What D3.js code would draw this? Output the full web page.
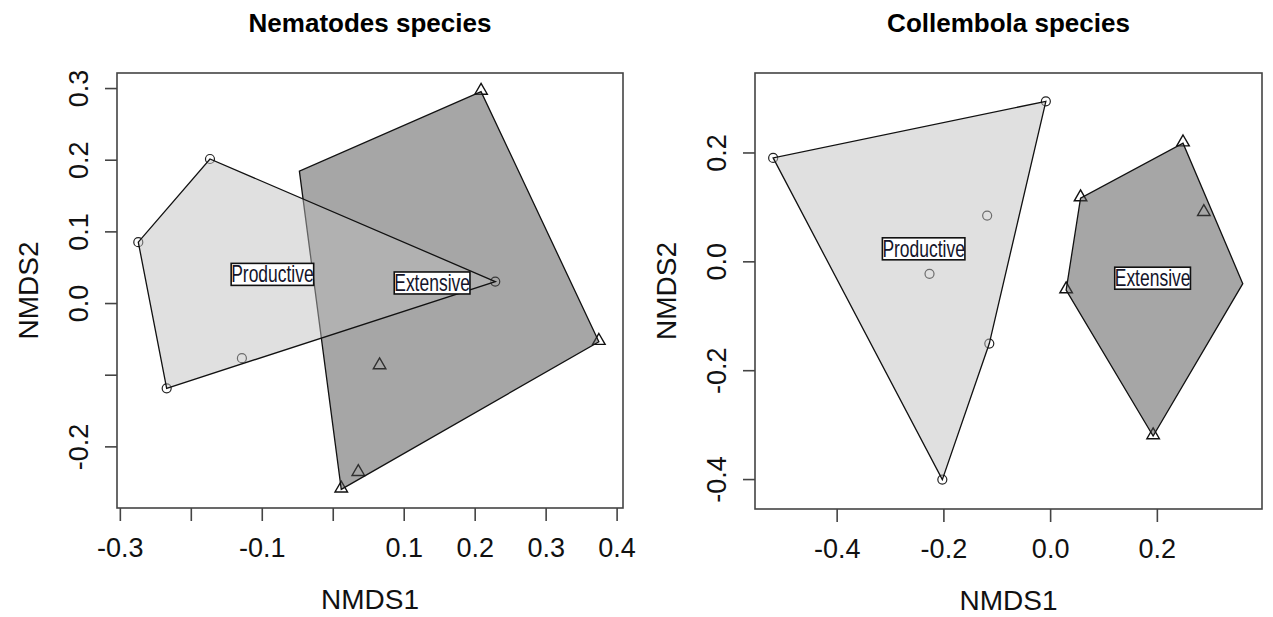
<!DOCTYPE html>
<html>
<head>
<meta charset="utf-8">
<script src="https://cdn.jsdelivr.net/npm/d3@7"></script>
<style>
  body { margin: 0; background: #fff; }
  svg { font-family: "Liberation Sans", Arial, sans-serif; }
</style>
</head>
<body>
<div id="chart"></div>
<script>
// site scores (NMDS1, NMDS2)
const nemProdX = [-0.173, -0.274, -0.234, -0.128, 0.229];
const nemProdY = [0.201, 0.085, -0.119, -0.077, 0.030];
const nemExtX = [0.209, 0.375, 0.012, 0.036, 0.066, -0.047];
const nemExtY = [0.295, -0.054, -0.260, -0.237, -0.088, 0.184];
const nemExtShown = [true, true, true, true, true, false];

const colProdX = [-0.519, -0.008, -0.118, -0.226, -0.114, -0.202];
const colProdY = [0.190, 0.294, 0.084, -0.023, -0.151, -0.401];
const colExtX = [0.249, 0.057, 0.030, 0.193, 0.361, 0.288];
const colExtY = [0.217, 0.116, -0.053, -0.321, -0.041, 0.089];
const colExtShown = [true, true, true, true, false, true];

// group label positions
const groups = ["Productive", "Extensive"];
const nemLabelX = [-0.085, 0.140];
const nemLabelY = [0.040, 0.028];
const colLabelX = [-0.237, 0.192];
const colLabelY = [0.023, -0.031];

// axes
const nemXTicks = [-0.3, -0.2, -0.1, 0.0, 0.1, 0.2, 0.3, 0.4];
const nemXTickLabels = ["-0.3", "", "-0.1", "", "0.1", "0.2", "0.3", "0.4"];
const nemYTicks = [-0.2, -0.1, 0.0, 0.1, 0.2, 0.3];
const nemYTickLabels = ["-0.2", "", "0.0", "0.1", "0.2", "0.3"];
const colXTicks = [-0.4, -0.2, 0.0, 0.2];
const colXTickLabels = ["-0.4", "-0.2", "0.0", "0.2"];
const colYTicks = [-0.4, -0.2, 0.0, 0.2];
const colYTickLabels = ["-0.4", "-0.2", "0.0", "0.2"];

const svg = d3.select("#chart")
    .append("svg")
    .attr("width", 1273)
    .attr("height", 617);

function zip(xs, ys, shown) {
    return xs.map((x, i) => ({ x: x, y: ys[i], shown: shown ? shown[i] : true }));
}

function drawPanel(p) {
    const x = d3.scaleLinear().domain(p.xDomain).range([p.left, p.right]);
    const y = d3.scaleLinear().domain(p.yDomain).range([p.bottom, p.top]);
    const g = svg.append("g");

    // points first, hulls go over them (semi transparent)
    g.selectAll("circle.site")
        .data(p.prod)
        .enter()
        .append("circle")
        .attr("cx", d => x(d.x))
        .attr("cy", d => y(d.y))
        .attr("r", 4.5)
        .attr("fill", "none")
        .attr("stroke", "#222")
        .attr("stroke-width", 1.2);

    const tri = d3.symbol().type(d3.symbolTriangle).size(68);
    g.selectAll("path.site")
        .data(p.ext.filter(d => d.shown))
        .enter()
        .append("path")
        .attr("d", tri)
        .attr("transform", d => `translate(${x(d.x)},${y(d.y) - 1})`)
        .attr("fill", "none")
        .attr("stroke", "#111")
        .attr("stroke-width", 1.4);

    const hullExt = d3.polygonHull(p.ext.map(d => [x(d.x), y(d.y)]));
    const hullProd = d3.polygonHull(p.prod.map(d => [x(d.x), y(d.y)]));

    g.append("path")
        .attr("d", "M" + hullExt.join("L") + "Z")
        .attr("fill", "#4d4d4d")
        .attr("fill-opacity", 0.5)
        .attr("stroke", "#111")
        .attr("stroke-width", 1.3);

    g.append("path")
        .attr("d", "M" + hullProd.join("L") + "Z")
        .attr("fill", "#bfbfbf")
        .attr("fill-opacity", 0.48)
        .attr("stroke", "#111")
        .attr("stroke-width", 1.3);

    // group labels in white boxes
    groups.forEach((name, i) => {
        const lg = g.append("g")
            .attr("transform", `translate(${x(p.labelX[i])},${y(p.labelY[i])})`);
        const box = lg.append("rect");
        const t = lg.append("text")
            .attr("text-anchor", "middle")
            .attr("y", 8)
            .attr("transform", "scale(0.76,1)")
            .style("font-size", "23px")
            .attr("fill", "#14142a")
            .text(name);
        const w = t.node().getComputedTextLength() * 0.76;
        box.attr("x", -w / 2)
            .attr("y", -11)
            .attr("width", w)
            .attr("height", 22)
            .attr("fill", "#fff")
            .attr("stroke", "#111")
            .attr("stroke-width", 1.6);
    });

    // frame
    g.append("rect")
        .attr("x", p.left)
        .attr("y", p.top)
        .attr("width", p.right - p.left)
        .attr("height", p.bottom - p.top)
        .attr("fill", "none")
        .attr("stroke", "#444")
        .attr("stroke-width", 1.6);

    const xa = g.append("g")
        .attr("transform", `translate(0,${p.bottom})`)
        .call(d3.axisBottom(x).tickValues(p.xTicks)
            .tickFormat((d, i) => p.xTickLabels[i])
            .tickSize(13).tickSizeOuter(0));
    xa.select(".domain").remove();
    xa.selectAll(".tick line").attr("stroke", "#444").attr("stroke-width", 1.6);
    xa.selectAll("text")
        .attr("y", 49).attr("dy", 0)
        .attr("fill", "#111")
        .style("font-size", "27px")
        .style("font-family", "Liberation Sans, Arial, sans-serif");

    const ya = g.append("g")
        .attr("transform", `translate(${p.left},0)`)
        .call(d3.axisLeft(y).tickValues(p.yTicks)
            .tickFormat((d, i) => p.yTickLabels[i])
            .tickSize(12).tickSizeOuter(0));
    ya.select(".domain").remove();
    ya.selectAll(".tick line").attr("stroke", "#444").attr("stroke-width", 1.6);
    ya.selectAll("text")
        .attr("x", 0).attr("dy", 0)
        .attr("transform", "translate(-29,0) rotate(-90)")
        .attr("text-anchor", "middle")
        .attr("fill", "#111")
        .style("font-size", "27px")
        .style("font-family", "Liberation Sans, Arial, sans-serif");

    g.append("text")
        .attr("x", (p.left + p.right) / 2)
        .attr("y", p.bottom + 101)
        .attr("text-anchor", "middle")
        .attr("fill", "#111")
        .style("font-size", "28px")
        .text("NMDS1");

    g.append("text")
        .attr("transform", `translate(${p.left - 79},${(p.top + p.bottom) / 2}) rotate(-90)`)
        .attr("text-anchor", "middle")
        .attr("fill", "#111")
        .style("font-size", "28px")
        .text("NMDS2");

    g.append("text")
        .attr("x", (p.left + p.right) / 2)
        .attr("y", 32)
        .attr("text-anchor", "middle")
        .attr("fill", "#000")
        .style("font-size", "26px")
        .style("font-weight", "bold")
        .text(p.title);
}

drawPanel({
    title: "Nematodes species",
    left: 117, right: 623, top: 73, bottom: 508,
    xDomain: [-0.304, 0.409], yDomain: [-0.286, 0.321],
    prod: zip(nemProdX, nemProdY),
    ext: zip(nemExtX, nemExtY, nemExtShown),
    labelX: nemLabelX, labelY: nemLabelY,
    xTicks: nemXTicks, xTickLabels: nemXTickLabels,
    yTicks: nemYTicks, yTickLabels: nemYTickLabels
});

drawPanel({
    title: "Collembola species",
    left: 755, right: 1262, top: 73, bottom: 509,
    xDomain: [-0.553, 0.397], yDomain: [-0.455, 0.346],
    prod: zip(colProdX, colProdY),
    ext: zip(colExtX, colExtY, colExtShown),
    labelX: colLabelX, labelY: colLabelY,
    xTicks: colXTicks, xTickLabels: colXTickLabels,
    yTicks: colYTicks, yTickLabels: colYTickLabels
});
</script>
</body>
</html>
